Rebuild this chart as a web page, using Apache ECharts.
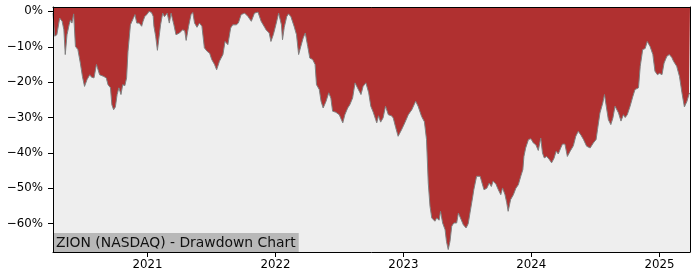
<!DOCTYPE html>
<html>
<head>
<meta charset="utf-8">
<script src="https://cdn.jsdelivr.net/npm/echarts@6/dist/echarts.min.js"></script>
<style>
html,body{margin:0;padding:0;background:#fff;}
#chart{width:700px;height:280px;}
</style>
</head>
<body>
<div id="chart"></div>
<script>
// Drawdown (%), split by year
const dates2020 = ['2020-04-06','2020-04-08','2020-04-11','2020-04-17','2020-04-25','2020-05-02','2020-05-07','2020-05-11','2020-05-16','2020-05-22','2020-05-26','2020-05-30','2020-06-04','2020-06-09','2020-06-16','2020-06-23','2020-06-29','2020-07-05','2020-07-12','2020-07-20','2020-07-25','2020-08-01','2020-08-08','2020-08-12','2020-08-17','2020-08-29','2020-09-05','2020-09-10','2020-09-17','2020-09-21','2020-09-26','2020-10-01','2020-10-06','2020-10-11','2020-10-17','2020-10-22','2020-10-28','2020-11-02','2020-11-06','2020-11-13','2020-11-21','2020-11-26','2020-12-01','2020-12-08','2020-12-15','2020-12-19','2020-12-24','2020-12-30'];
const values2020 = [-0.5,-0.9,-7.0,-6.6,-1.9,-2.8,-5.2,-12.2,-6.6,-3.8,-2.4,-3.3,-0.7,-9.9,-10.8,-14.6,-18.4,-21.2,-19.3,-17.9,-18.6,-18.8,-15.0,-14.6,-17.9,-18.4,-18.8,-20.7,-21.6,-26.4,-27.8,-27.0,-23.5,-21.6,-23.5,-20.7,-21.0,-18.8,-11.3,-3.8,-2.0,-0.9,-3.3,-3.3,-4.2,-2.8,-1.4,-0.9];

const dates2021 = ['2021-01-05','2021-01-12','2021-01-17','2021-01-19','2021-01-24','2021-01-29','2021-02-03','2021-02-07','2021-02-13','2021-02-18','2021-02-26','2021-03-04','2021-03-09','2021-03-17','2021-03-23','2021-04-02','2021-04-11','2021-04-17','2021-04-21','2021-04-28','2021-05-05','2021-05-10','2021-05-15','2021-05-22','2021-05-29','2021-06-05','2021-06-12','2021-06-20','2021-06-27','2021-07-03','2021-07-11','2021-07-17','2021-07-25','2021-08-04','2021-08-10','2021-08-18','2021-08-26','2021-09-01','2021-09-11','2021-09-17','2021-09-25','2021-10-05','2021-10-14','2021-10-24','2021-11-02','2021-11-12','2021-11-21','2021-12-01','2021-12-05','2021-12-14','2021-12-19','2021-12-26'];
const values2021 = [0,-0.3,-1.4,-4.2,-7.0,-11.0,-7.0,-3.8,-0.5,-1.5,-0.5,-3.3,-0.5,-3.8,-6.6,-6.1,-5.2,-5.5,-8.2,-4.2,-0.9,-0.3,-3.3,-4.5,-3.3,-4.2,-10.3,-11.3,-11.8,-13.6,-15.0,-16.5,-14.1,-12.2,-8.5,-9.4,-4.7,-3.8,-3.8,-3.3,-0.9,-0.5,-1.4,-2.8,-0.5,-0.2,-2.8,-4.5,-5.2,-6.1,-8.5,-6.5];

const dates2022 = ['2022-01-02','2022-01-10','2022-01-13','2022-01-18','2022-01-21','2022-01-26','2022-02-02','2022-02-07','2022-02-14','2022-02-23','2022-03-02','2022-03-08','2022-03-14','2022-03-21','2022-03-27','2022-04-03','2022-04-09','2022-04-17','2022-04-24','2022-04-28','2022-05-06','2022-05-11','2022-05-17','2022-05-25','2022-06-02','2022-06-08','2022-06-13','2022-06-22','2022-07-02','2022-07-12','2022-07-18','2022-07-26','2022-08-01','2022-08-09','2022-08-16','2022-08-23','2022-09-02','2022-09-08','2022-09-16','2022-09-24','2022-09-30','2022-10-07','2022-10-14','2022-10-17','2022-10-22','2022-10-28','2022-11-04','2022-11-11','2022-11-19','2022-11-28','2022-12-03','2022-12-10','2022-12-17','2022-12-27'];
const values2022 = [-3.8,-0.5,0,-3.8,-8.0,-4.5,-1.5,-0.7,-1.5,-4.2,-6.6,-12.2,-10.0,-7.5,-6.1,-9.9,-13.2,-13.6,-15.0,-20.7,-22.1,-25.4,-27.3,-25.5,-23.0,-24.5,-28.2,-28.5,-29.2,-31.5,-29.2,-27.3,-26.4,-24.5,-20.2,-21.6,-23.5,-21.2,-20.2,-23.0,-26.8,-28.5,-30.6,-31.5,-29.5,-31.3,-30.1,-26.8,-29.2,-29.5,-30.1,-32.8,-35.3,-33.4];

const dates2023 = ['2023-01-05','2023-01-15','2023-01-25','2023-02-05','2023-02-12','2023-02-22','2023-03-02','2023-03-08','2023-03-13','2023-03-18','2023-03-23','2023-03-27','2023-04-01','2023-04-06','2023-04-13','2023-04-17','2023-04-23','2023-04-30','2023-05-04','2023-05-09','2023-05-14','2023-05-19','2023-05-25','2023-06-02','2023-06-07','2023-06-13','2023-06-21','2023-06-29','2023-07-05','2023-07-10','2023-07-18','2023-07-21','2023-07-29','2023-08-08','2023-08-12','2023-08-19','2023-08-27','2023-09-03','2023-09-09','2023-09-14','2023-09-22','2023-09-29','2023-10-06','2023-10-11','2023-10-18','2023-10-23','2023-10-27','2023-11-03','2023-11-11','2023-11-18','2023-11-25','2023-12-02','2023-12-08','2023-12-11','2023-12-16','2023-12-24','2023-12-31'];
const values2023 = [-31.5,-29.2,-27.8,-25.4,-26.8,-29.7,-31.2,-36.2,-48.5,-55.1,-58.4,-58.0,-59.3,-58.4,-59.0,-56.5,-59.8,-61.7,-65.0,-67.3,-65.0,-60.7,-59.8,-59.8,-57.0,-58.4,-60.3,-61.2,-60.0,-57.0,-52.3,-50.4,-46.6,-46.6,-48.0,-50.4,-50.0,-48.5,-49.5,-48.0,-48.8,-50.4,-51.8,-49.9,-51.8,-54.1,-56.5,-53.2,-51.8,-50.0,-49.0,-46.6,-44.7,-41.0,-38.6,-36.2,-36.0];

const dates2024 = ['2024-01-07','2024-01-14','2024-01-21','2024-01-28','2024-02-02','2024-02-07','2024-02-14','2024-02-21','2024-02-28','2024-03-06','2024-03-12','2024-03-18','2024-03-25','2024-03-30','2024-04-06','2024-04-13','2024-04-21','2024-04-30','2024-05-07','2024-05-14','2024-05-22','2024-05-29','2024-06-07','2024-06-17','2024-06-26','2024-07-04','2024-07-08','2024-07-15','2024-07-23','2024-07-28','2024-08-02','2024-08-08','2024-08-15','2024-08-21','2024-08-27','2024-09-01','2024-09-06','2024-09-13','2024-09-20','2024-09-25','2024-10-01','2024-10-09','2024-10-17','2024-10-23','2024-11-02','2024-11-07','2024-11-14','2024-11-21','2024-11-27','2024-12-05','2024-12-13','2024-12-19','2024-12-26'];
const values2024 = [-37.2,-37.7,-39.3,-35.8,-40.0,-41.4,-41.0,-41.8,-42.8,-41.5,-39.5,-40.3,-38.6,-37.5,-37.5,-41.0,-39.5,-38.0,-35.3,-33.9,-35.0,-36.2,-38.1,-38.6,-37.2,-36.2,-33.4,-28.7,-25.9,-23.5,-26.8,-30.6,-32.0,-30.1,-26.8,-26.4,-28.7,-31.0,-29.2,-30.0,-29.2,-26.8,-24.0,-22.1,-21.6,-15.5,-10.8,-10.5,-8.5,-9.9,-12.2,-16.9,-17.9];

const dates2025 = ['2025-01-01','2025-01-08','2025-01-14','2025-01-22','2025-01-29','2025-02-05','2025-02-10','2025-02-19','2025-02-27','2025-03-06','2025-03-13','2025-03-20','2025-03-26','2025-03-29'];
const values2025 = [-17.5,-17.9,-14.6,-12.7,-12.2,-13.0,-14.1,-15.5,-18.4,-23.0,-27.0,-25.5,-23.5,-23.0];

const yearTicks = ['2021-01-01','2022-01-01','2023-01-01','2024-01-01','2025-01-01'];
const yearLabels = ['2021','2022','2023','2024','2025'];
const pctTicks = [-60,-50,-40,-30,-20,-10,0];
const titleText = 'ZION (NASDAQ) - Drawdown Chart';

const toTs = s => echarts.number.parseDate(s).getTime();
const allDates = [].concat(dates2020, dates2021, dates2022, dates2023, dates2024, dates2025);
const allValues = [].concat(values2020, values2021, values2022, values2023, values2024, values2025);
const seriesData = allDates.map((d, i) => [toTs(d), allValues[i]]);
const yearTickTs = yearTicks.map(toTs);
const xMin = seriesData[0][0];
const xMax = seriesData[seriesData.length - 1][0];

const FONT = 'DejaVu Sans';
const spine = {show: true, onZero: false, lineStyle: {color: '#000', width: 1}};
const chart = echarts.init(document.getElementById('chart'), null, {renderer: 'canvas'});
chart.setOption({
  animation: false,
  backgroundColor: '#ffffff',
  title: {
    text: titleText,
    left: 53,
    bottom: 28,
    padding: [3, 3, 2, 3],
    backgroundColor: '#b8b8b8',
    z: 5,
    textStyle: {fontFamily: FONT, fontSize: 13.9, fontWeight: 'normal', color: '#111'}
  },
  grid: {
    left: 53, right: 10, top: 7, bottom: 28,
    show: true, backgroundColor: '#eeeeee', borderWidth: 0
  },
  xAxis: [{
    type: 'value', min: xMin, max: xMax, z: 10,
    axisLine: spine,
    axisTick: {show: true, length: 5, lineStyle: {color: '#000', width: 1}, customValues: yearTickTs},
    axisLabel: {
      customValues: yearTickTs, margin: 7,
      color: '#000', fontFamily: FONT, fontSize: 11.8,
      formatter: v => yearLabels[yearTickTs.indexOf(v)] || ''
    },
    splitLine: {show: false}
  }, {
    type: 'value', position: 'top', min: xMin, max: xMax, z: 10,
    axisLine: spine, axisTick: {show: false}, axisLabel: {show: false}, splitLine: {show: false}
  }],
  yAxis: [{
    type: 'value', min: -68, max: 1.24, z: 10,
    axisLine: spine,
    axisTick: {show: true, length: 5, lineStyle: {color: '#000', width: 1}, customValues: pctTicks},
    axisLabel: {
      customValues: pctTicks, margin: 10,
      color: '#000', fontFamily: FONT, fontSize: 11.8,
      formatter: v => (v < 0 ? '\u2212' + Math.abs(v) : String(v)) + '%'
    },
    splitLine: {show: false}
  }, {
    type: 'value', position: 'right', min: -68, max: 1.24, z: 10,
    axisLine: spine, axisTick: {show: false}, axisLabel: {show: false}, splitLine: {show: false}
  }],
  series: [{
    type: 'line',
    xAxisIndex: 0, yAxisIndex: 0,
    data: seriesData,
    showSymbol: false,
    symbol: 'none',
    lineStyle: {color: '#808080', width: 1},
    areaStyle: {origin: 'end', color: '#b03030', opacity: 1},
    z: 2
  }]
});
</script>
</body>
</html>
